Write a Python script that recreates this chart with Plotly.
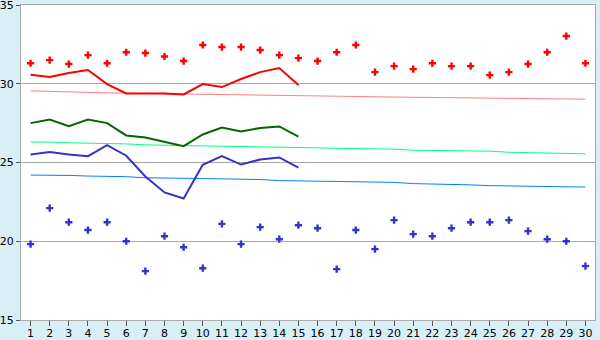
import plotly.graph_objects as go

days = list(range(1, 31))

max_pts = [31.3, 31.5, 31.25, 31.82, 31.3, 32.0, 31.95, 31.73, 31.44, 32.46,
           32.33, 32.33, 32.14, 31.82, 31.63, 31.44, 32.0, 32.46, 30.74, 31.12,
           30.93, 31.3, 31.12, 31.12, 30.55, 30.74, 31.25, 32.0, 33.03, 31.3]
min_pts = [19.82, 22.1, 21.21, 20.71, 21.21, 20.0, 18.1, 20.32, 19.62, 18.29,
           21.1, 19.82, 20.9, 20.13, 21.02, 20.83, 18.23, 20.71, 19.5, 21.34,
           20.45, 20.32, 20.83, 21.21, 21.21, 21.34, 20.64, 20.13, 20.0, 18.42]

line_days = list(range(1, 16))
max_line = [30.57, 30.43, 30.68, 30.87, 29.98, 29.38, 29.38, 29.38, 29.32, 29.98,
            29.79, 30.3, 30.74, 31.0, 29.92]
mean_line = [27.5, 27.73, 27.31, 27.73, 27.5, 26.72, 26.59, 26.33, 26.04, 26.78,
             27.22, 26.97, 27.19, 27.29, 26.65]
min_line = [25.51, 25.66, 25.51, 25.4, 26.1, 25.43, 24.11, 23.1, 22.71, 24.85,
            25.4, 24.87, 25.19, 25.32, 24.68]

max_norm = [29.55, 29.53, 29.5, 29.45, 29.42, 29.4, 29.4, 29.38, 29.37, 29.35,
            29.3, 29.27, 29.25, 29.24, 29.22, 29.2, 29.2, 29.18, 29.16, 29.15,
            29.14, 29.13, 29.12, 29.11, 29.09, 29.06, 29.05, 29.04, 29.03, 29.02]
mean_norm = [26.3, 26.3, 26.25, 26.23, 26.2, 26.18, 26.12, 26.1, 26.08, 26.07,
             26.06, 26.05, 26.02, 25.97, 25.95, 25.93, 25.9, 25.88, 25.87, 25.85,
             25.78, 25.76, 25.75, 25.74, 25.72, 25.65, 25.62, 25.61, 25.6, 25.55]
min_norm = [24.2, 24.2, 24.18, 24.14, 24.13, 24.1, 24.03, 24.0, 24.0, 23.98,
            23.96, 23.95, 23.92, 23.85, 23.83, 23.82, 23.78, 23.77, 23.76, 23.74,
            23.66, 23.64, 23.63, 23.58, 23.53, 23.52, 23.5, 23.48, 23.45, 23.44]

RED = "#FF0000"
GREEN = "#006600"
BLUE = "#3333CC"

fig = go.Figure()
fig.add_trace(go.Scatter(x=days, y=max_norm, mode="lines", line=dict(color="#FF8080", width=1)))
fig.add_trace(go.Scatter(x=days, y=mean_norm, mode="lines", line=dict(color="#00FF80", width=1)))
fig.add_trace(go.Scatter(x=days, y=min_norm, mode="lines", line=dict(color="#0080FF", width=1)))
fig.add_trace(go.Scatter(x=line_days, y=max_line, mode="lines", line=dict(color=RED, width=2)))
fig.add_trace(go.Scatter(x=line_days, y=mean_line, mode="lines", line=dict(color=GREEN, width=2)))
fig.add_trace(go.Scatter(x=line_days, y=min_line, mode="lines", line=dict(color=BLUE, width=2)))
fig.add_trace(go.Scatter(x=days, y=max_pts, mode="markers",
                         marker=dict(symbol="cross", size=6, color=RED, line=dict(width=0))))
fig.add_trace(go.Scatter(x=days, y=min_pts, mode="markers",
                         marker=dict(symbol="cross", size=6, color=BLUE, line=dict(width=0))))

fig.update_layout(
    width=600, height=340,
    margin=dict(l=21, r=5, t=5, b=20, autoexpand=False),
    paper_bgcolor="#D9EFF6",
    plot_bgcolor="#FFFFFF",
    showlegend=False,
    font=dict(family="DejaVu Sans", size=11, color="#000000"),
)
fig.update_xaxes(range=[0.5, 30.5], tickvals=days, ticktext=[str(d) for d in days],
                 showgrid=False, zeroline=False, showline=True, linecolor="#AAAAAA",
                 linewidth=1, mirror=True, ticks="outside", ticklen=5, tickcolor="#555555",
                 tickfont=dict(size=11), automargin=False, ticklabeloverflow="allow",
                 ticklabelstandoff=-2)
fig.update_yaxes(range=[15, 35], tickvals=[15, 20, 25, 30, 35],
                 showgrid=True, gridcolor="#AAAAAA", gridwidth=1, zeroline=False,
                 showline=True, linecolor="#AAAAAA", linewidth=1, mirror=True,
                 ticks="outside", ticklen=4, tickcolor="#555555", tickfont=dict(size=11),
                 automargin=False, ticklabeloverflow="allow")

fig.write_html("out.html", config={"displayModeBar": False})
